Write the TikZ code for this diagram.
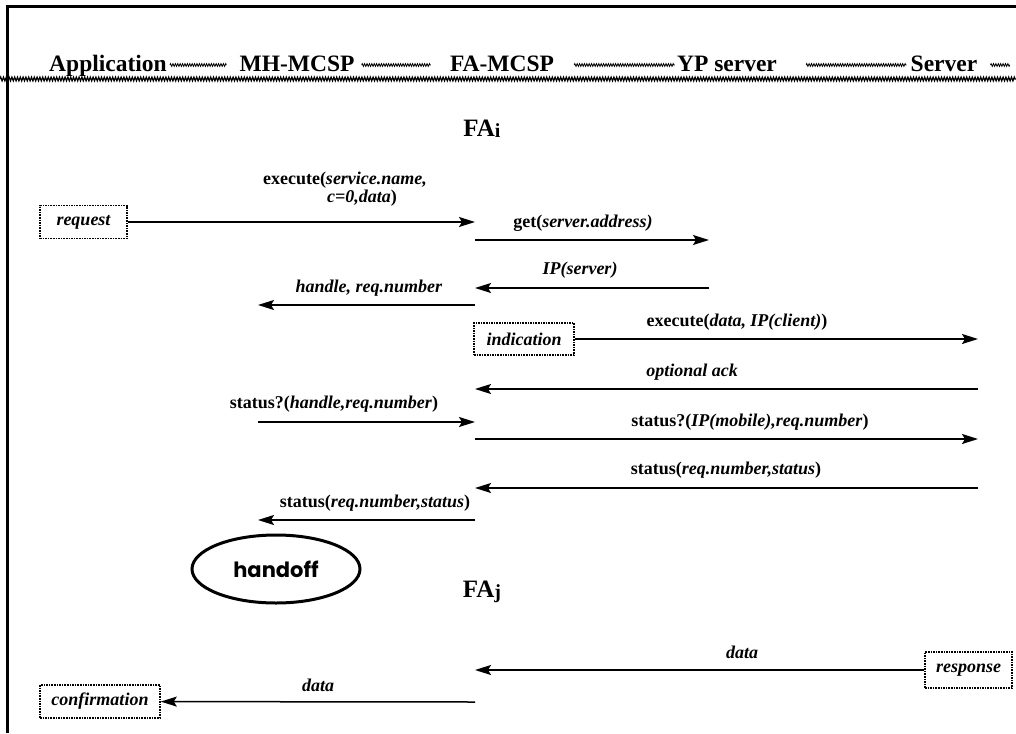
\documentclass[tikz,border=0pt]{standalone}
\usepackage{fontspec}
\setmainfont{Liberation Serif}
\newfontfamily\handfont{Poppins}
\usetikzlibrary{arrows.meta,decorations.pathmorphing,shapes.geometric}

\tikzset{
  hdr/.style={font=\fontsize{23.5}{27}\selectfont\bfseries, inner sep=0pt},
  lbl/.style={font=\fontsize{18}{21}\selectfont\bfseries, inner sep=0pt},
  fa/.style={font=\fontsize{25}{28}\selectfont\bfseries, inner sep=0pt},
  msg/.style={line width=1.5pt, -{Stealth[length=16pt,width=10pt,inset=3pt]}},
  evbox/.style={draw, densely dotted, line width=1.6pt, inner sep=0pt,
                font=\fontsize{18}{21}\selectfont\bfseries\itshape},
  wave/.style={decorate, decoration={zigzag, segment length=2.4pt, amplitude=1.4pt}, line width=0.8pt},
  rule/.style={decorate, decoration={zigzag, segment length=2.8pt, amplitude=1.9pt}, line width=1.2pt}
}

\begin{document}
\begin{tikzpicture}[x=1pt,y=1pt]
\useasboundingbox (0,0) rectangle (1016,-733);

% frame
\draw[line width=3pt] (7,-733) -- (7,-7) -- (1016,-7);
\draw[rule] (0,-79) -- (1016,-79);

% column headings
\node[hdr, anchor=base] (app) at (108,-72) {Application};
\node[hdr, anchor=base] (mh)  at (297,-72) {MH-MCSP};
\node[hdr, anchor=base] (fam) at (502,-72) {FA-MCSP};
\node[hdr, anchor=base] (yp)  at (727,-72) {YP server};
\node[hdr, anchor=base] (srv) at (944,-72) {Server};
\coordinate (tail) at (1010,-65);

\draw[wave] ([shift={(3pt,7pt)}]app.base east) -- ([shift={(-13pt,7pt)}]mh.base west);
\draw[wave] ([shift={(7pt,7pt)}]mh.base east) -- ([shift={(-19pt,7pt)}]fam.base west);
\draw[wave] ([shift={(20pt,7pt)}]fam.base east) -- ([shift={(-2pt,7pt)}]yp.base west);
\draw[wave] ([shift={(29pt,7pt)}]yp.base east) -- ([shift={(-4pt,7pt)}]srv.base west);
\draw[wave] ([shift={(13pt,7pt)}]srv.base east) -- (tail);

% foreign agent i
\node[fa, anchor=base] (fai) at (482,-136) {FA\raisebox{-1pt}{\fontsize{20}{20}\selectfont i}};

% request
\node[evbox, minimum width=87pt, minimum height=33pt] (req) at (83.5,-222) {request};
\coordinate (f1) at (475,-222);
\draw[msg] (req) -- (f1);
\node[lbl] (l1a) at (345,-180) {execute(\textit{service.name,}};
\node[lbl] (l1b) at (362,-198) {\textit{c=0,data})};

% address lookup
\coordinate (f2) at (475,-240); \coordinate (y2) at (709,-240);
\draw[msg] (f2) -- (y2);
\node[lbl] (l2) at (583,-223) {get(\textit{server.address)}};

\coordinate (y3) at (709,-288); \coordinate (f3) at (475,-288);
\draw[msg] (y3) -- (f3);
\node[lbl] (l3) at (580,-270) {\textit{IP(server)}};

\coordinate (f4) at (475,-305); \coordinate (m4) at (258,-305);
\draw[msg] (f4) -- (m4);
\node[lbl] (l4) at (369,-288) {\textit{handle, req.number}};

% indication to server
\node[evbox, minimum width=100pt, minimum height=32pt] (ind) at (524,-339) {indication};
\coordinate (s5) at (978,-339);
\draw[msg] (ind) -- (s5);
\node[lbl] (l5) at (737,-322) {execute(\textit{data, IP(client)})};

\coordinate (s6) at (978,-389); \coordinate (f6) at (475,-389);
\draw[msg] (s6) -- (f6);
\node[lbl] (l6) at (692,-372) {\textit{optional ack}};

% status polling
\coordinate (m7) at (258,-422); \coordinate (f7) at (475,-422);
\draw[msg] (m7) -- (f7);
\node[lbl] (l7) at (334,-404) {status?(\textit{handle,req.number})};

\coordinate (f8) at (475,-439); \coordinate (s8) at (978,-439);
\draw[msg] (f8) -- (s8);
\node[lbl] (l8) at (750,-422) {status?(\textit{IP(mobile),req.number})};

\coordinate (s9) at (978,-488); \coordinate (f9) at (475,-488);
\draw[msg] (s9) -- (f9);
\node[lbl] (l9) at (726,-470) {status(\textit{req.number,status})};

\coordinate (f10) at (475,-520); \coordinate (m10) at (258,-520);
\draw[msg] (f10) -- (m10);
\node[lbl] (l10) at (375,-503) {status(\textit{req.number,status})};

% handoff
\node[draw, ellipse, line width=3pt, minimum width=168pt, minimum height=68pt, inner sep=0pt,
      font=\handfont\bfseries\fontsize{21}{24}\selectfont] (ho) at (276,-569) {handoff};

% foreign agent j
\node[fa, anchor=base] (faj) at (482,-597) {FA\raisebox{-1pt}{\fontsize{20}{20}\selectfont j}};

% response delivery
\node[evbox, minimum width=87pt, minimum height=36pt] (resp) at (968.5,-670) {response};
\coordinate (f11) at (475,-670);
\draw[msg] (resp) -- (f11);
\node[lbl] (l11) at (742,-652) {\textit{data}};

\node[evbox, minimum width=120pt, minimum height=33pt] (conf) at (100,-701.5) {confirmation};
\coordinate (f12) at (475,-702);
\draw[msg] (f12) -- (conf);
\node[lbl] (l12) at (318,-685) {\textit{data}};
\end{tikzpicture}
\end{document}
